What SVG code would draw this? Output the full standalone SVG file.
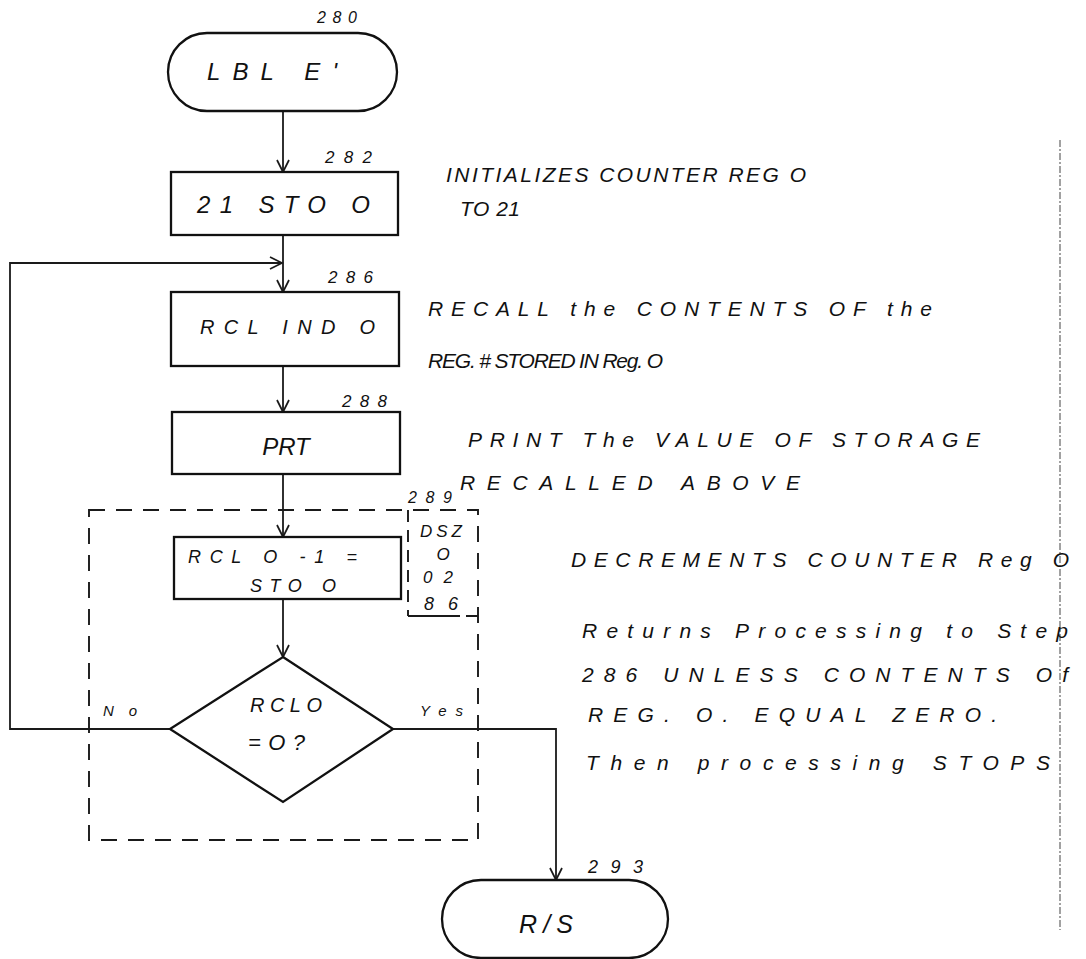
<svg xmlns="http://www.w3.org/2000/svg" width="1086" height="959" viewBox="0 0 1086 959">
<defs>
<style>
.box{fill:#fff;stroke:#111;stroke-width:2.3}
.ln{fill:none;stroke:#1a1a1a;stroke-width:1.8}
.dash{fill:none;stroke:#1a1a1a;stroke-width:1.9;stroke-dasharray:16 11}
.edge{fill:none;stroke:#555;stroke-width:1.1;stroke-dasharray:7 2 2 2}
.t{font-family:"Liberation Sans",Arial,sans-serif;font-style:italic;fill:#111}
.n{font-size:16px}
.h{font-size:21px}
</style>
<marker id="ah" viewBox="-14 -8 16 16" refX="0" refY="0" markerWidth="16" markerHeight="16" markerUnits="userSpaceOnUse" orient="auto">
<path d="M-12,-6 L0,0 L-12,6" fill="none" stroke="#1a1a1a" stroke-width="1.7"/>
</marker>
</defs>
<rect width="1086" height="959" fill="#fff"/>

<g id="connectors">
<path class="ln" d="M283,111 V172" marker-end="url(#ah)"/>
<path class="ln" d="M283,235 V292" marker-end="url(#ah)"/>
<path class="ln" d="M283,366 V412" marker-end="url(#ah)"/>
<path class="ln" d="M283,474 V537" marker-end="url(#ah)"/>
<path class="ln" d="M283,599 V657" marker-end="url(#ah)"/>
<path class="ln" d="M170,729 H10 V263 H282" marker-end="url(#ah)"/>
<path class="ln" d="M393,729 H556 V880" marker-end="url(#ah)"/>
<text class="t" x="103" y="716" font-size="15" textLength="34">No</text>
<text class="t" x="420" y="716" font-size="15" textLength="43">Yes</text>
</g>

<g id="loop-group">
<rect class="dash" x="89" y="510" width="389" height="330"/>
<path class="dash" d="M408,510 V616" style="stroke-dasharray:12 8"/>
<path class="ln" d="M408,616 H460 M466,616 H478" style="stroke-width:1.9"/>
<text class="t n" x="408" y="503" textLength="44">289</text>
<text class="t" x="420" y="537" font-size="17" textLength="42">DSZ</text>
<text class="t" x="443" y="560" font-size="17" text-anchor="middle">O</text>
<text class="t" x="423" y="583" font-size="17" textLength="30">02</text>
<text class="t" x="424" y="610" font-size="18" textLength="34">86</text>
</g>

<g id="n280">
<rect class="box" x="168" y="33" width="229" height="78" rx="39"/>
<text class="t n" x="317" y="23" textLength="40">280</text>
<text class="t" x="207" y="80" font-size="24" textLength="130">LBL E'</text>
</g>

<g id="n282">
<rect class="box" x="171" y="172" width="227" height="63"/>
<text class="t" x="325" y="163" font-size="17" textLength="47">282</text>
<text class="t" x="197" y="213" font-size="24" textLength="173">21 STO O</text>
</g>

<g id="n286">
<rect class="box" x="171" y="292" width="228" height="74"/>
<text class="t" x="328" y="283" font-size="17" textLength="45">286</text>
<text class="t" x="200" y="334" font-size="20" textLength="175">RCL IND O</text>
</g>

<g id="n288">
<rect class="box" x="172" y="412" width="228" height="62"/>
<text class="t" x="342" y="407" font-size="17" textLength="45">288</text>
<text class="t" x="286" y="455" font-size="24" text-anchor="middle">PRT</text>
</g>

<g id="n289">
<rect class="box" x="174" y="537" width="227" height="62"/>
<text class="t" x="188" y="563" font-size="18" textLength="169">RCL O -1 =</text>
<text class="t" x="250" y="592" font-size="18" textLength="86">STO O</text>
</g>

<g id="decision">
<polygon class="box" points="283,657 393,729 283,802 170,729"/>
<text class="t" x="250" y="712" font-size="20" textLength="72">RCLO</text>
<text class="t" x="248" y="750" font-size="22" textLength="57">=O?</text>
</g>

<g id="n293">
<rect class="box" x="442" y="880" width="226" height="78" rx="39"/>
<text class="t" x="588" y="873" font-size="18" textLength="55">293</text>
<text class="t" x="519" y="933" font-size="25" textLength="54">R/S</text>
</g>

<g id="notes">
<path class="edge" d="M1060,140 V930"/>
<text class="t h" x="446" y="182" textLength="360">INITIALIZES COUNTER REG O</text>
<text class="t h" x="460" y="216" textLength="60">TO 21</text>
<text class="t h" x="428" y="316" textLength="504">RECALL the CONTENTS OF the</text>
<text class="t h" x="428" y="368" textLength="235">REG. # STORED IN Reg. O</text>
<text class="t h" x="468" y="447" textLength="512">PRINT The VALUE OF STORAGE</text>
<text class="t h" x="460" y="490" textLength="340">RECALLED ABOVE</text>
<text class="t h" x="571" y="567" textLength="498">DECREMENTS COUNTER Reg O</text>
<text class="t h" x="582" y="638" textLength="486">Returns Processing to Step</text>
<text class="t h" x="582" y="682" textLength="486">286 UNLESS CONTENTS Of</text>
<text class="t h" x="588" y="722" textLength="409">REG. O. EQUAL ZERO.</text>
<text class="t h" x="586" y="770" textLength="464">Then processing STOPS</text>
</g>
</svg>
